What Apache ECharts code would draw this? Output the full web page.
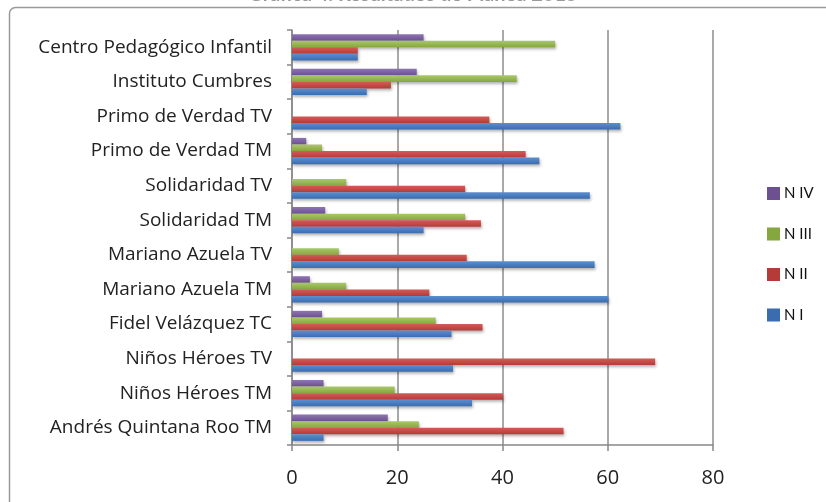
<!DOCTYPE html>
<html>
<head>
<meta charset="utf-8">
<script src="https://cdn.jsdelivr.net/npm/echarts@6/dist/echarts.min.js"></script>
<style>
html,body{margin:0;padding:0;background:#fff;}
#chart{width:826px;height:502px;}
</style>
</head>
<body>
<div id="chart"></div>
<script>
// Categories listed bottom to top
const categories = [
  'Andrés Quintana Roo TM', 'Niños Héroes TM', 'Niños Héroes TV', 'Fidel Velázquez TC',
  'Mariano Azuela TM', 'Mariano Azuela TV', 'Solidaridad TM', 'Solidaridad TV',
  'Primo de Verdad TM', 'Primo de Verdad TV', 'Instituto Cumbres', 'Centro Pedagógico Infantil'
];
const nI   = [6.0, 34.2, 30.6, 30.3, 60.1, 57.5, 25.0, 56.6, 47.0, 62.4, 14.2, 12.5];
const nII  = [51.6, 40.1, 69.0, 36.2, 26.1, 33.2, 35.9, 32.9, 44.4, 37.5, 18.8, 12.5];
const nIII = [24.1, 19.5, 0, 27.3, 10.3, 8.9, 32.9, 10.3, 5.7, 0, 42.7, 50.0];
const nIV  = [18.2, 6.0, 0, 5.7, 3.4, 0, 6.3, 0, 2.7, 0, 23.7, 25.0];
// drawn top to bottom within each group
const seriesNames = ['N IV', 'N III', 'N II', 'N I'];
const seriesData = [nIV, nIII, nII, nI];
const titleText = 'Gráfica 4. Resultados de Planea 2015';

const colors = [
  ['#8f74b4', '#6c5090'],
  ['#a9c96a', '#86a640'],
  ['#d45b58', '#b43b38'],
  ['#5b8fd0', '#3a6cb0']
];

const chart = echarts.init(document.getElementById('chart'));
chart.setOption({
  animation: false,
  title: {
    text: titleText, left: 'center', top: -20,
    textStyle: { fontFamily: 'Lato', fontSize: 20, fontWeight: 'bold', color: '#999' }
  },
  graphic: [{
    type: 'rect', left: 7, top: 5, shape: { width: 840, height: 520, r: 6 },
    style: { fill: 'none', stroke: '#9a9a9a', lineWidth: 1.5 }, z: -1
  }],
  legend: {
    orient: 'vertical', left: 762, top: 181, itemWidth: 11, itemHeight: 11, itemGap: 25.5,
    data: seriesNames.map((n, i) => ({
      name: n,
      itemStyle: { color: colors[i][1], borderColor: colors[i][1], borderWidth: 2, shadowBlur: 0, shadowOffsetX: 0, shadowOffsetY: 0 }
    })),
    icon: 'rect',
    textStyle: { fontFamily: 'Lato', fontSize: 15, color: '#111' }
  },
  grid: { left: 292, right: 113, top: 30, bottom: 57 },
  xAxis: {
    type: 'value', min: 0, max: 80, interval: 20,
    axisLine: { show: true, lineStyle: { color: '#888', width: 1.5 } },
    axisTick: { show: true, length: 6, lineStyle: { color: '#888', width: 1.5 } },
    splitLine: { show: true, lineStyle: { color: '#8c8c8c', width: 1.5 } },
    axisLabel: { margin: 23, fontFamily: 'Open Sans', fontSize: 20, color: '#222' }
  },
  yAxis: {
    type: 'category', data: categories,
    axisLine: { show: true, lineStyle: { color: '#888', width: 1.5 } },
    axisTick: { show: true, length: 5, inside: false, lineStyle: { color: '#888', width: 1.5 } },
    axisLabel: { margin: 20, fontFamily: 'Open Sans', fontSize: 19, color: '#222' }
  },
  series: seriesNames.map((name, i) => ({
    name: name, type: 'bar', data: seriesData[i],
    barGap: '0%', barCategoryGap: '24%',
    itemStyle: {
      color: new echarts.graphic.LinearGradient(0, 0, 0, 1, [
        { offset: 0, color: colors[i][0] }, { offset: 1, color: colors[i][1] }
      ]),
      shadowBlur: 3, shadowColor: 'rgba(0,0,0,0.3)', shadowOffsetY: 2, shadowOffsetX: 1
    }
  })),
  color: colors.map(c => c[1])
});
</script>
</body>
</html>
